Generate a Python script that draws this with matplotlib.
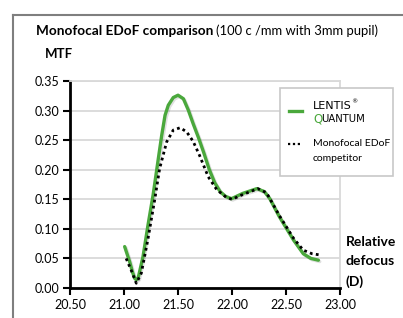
import matplotlib
matplotlib.use("Agg")
import matplotlib.pyplot as plt
import matplotlib.patheffects as pe
from matplotlib.lines import Line2D
from matplotlib.patches import Rectangle

# values
lentis_x = [21.006, 21.053, 21.08, 21.10, 21.115, 21.13, 21.176, 21.22, 21.27, 21.318,
            21.349, 21.38, 21.41, 21.456, 21.50, 21.55, 21.595, 21.64, 21.69, 21.74,
            21.79, 21.84, 21.89, 21.94, 21.995, 22.10, 22.23, 22.30, 22.35, 22.44,
            22.57, 22.66, 22.73, 22.80]
lentis_y = [0.070, 0.044, 0.026, 0.016, 0.014, 0.016, 0.053, 0.104, 0.158, 0.219,
            0.258, 0.292, 0.309, 0.322, 0.326, 0.320, 0.301, 0.278, 0.254, 0.228,
            0.200, 0.178, 0.163, 0.155, 0.151, 0.160, 0.168, 0.163, 0.151, 0.120,
            0.081, 0.058, 0.050, 0.047]

comp_x = [21.02, 21.067, 21.114, 21.16, 21.22, 21.285, 21.33, 21.395, 21.456, 21.52,
          21.58, 21.64, 21.70, 21.78, 21.86, 21.95, 22.0, 22.10, 22.24, 22.32,
          22.44, 22.57, 22.66, 22.74, 22.81]
comp_y = [0.050, 0.030, 0.008, 0.025, 0.081, 0.150, 0.202, 0.247, 0.267, 0.271,
          0.264, 0.248, 0.224, 0.188, 0.166, 0.153, 0.150, 0.158, 0.168, 0.161,
          0.122, 0.084, 0.064, 0.058, 0.056]

x_ticks = [20.5, 21.0, 21.5, 22.0, 22.5, 23.0]
y_ticks = [0.0, 0.05, 0.10, 0.15, 0.20, 0.25, 0.30, 0.35]

GREEN = "#4aa83c"
plt.rcParams["font.family"] = ["Lato", "DejaVu Sans"]

W, H = 403, 318
fig = plt.figure(figsize=(W / 100, H / 100), dpi=100)
ax = fig.add_axes([70 / W, 1 - 288 / H, 270 / W, 207 / H])

shadow = [pe.SimpleLineShadow(offset=(1, -1), alpha=0.12), pe.Normal()]
ax.plot(lentis_x, lentis_y, color=GREEN, lw=2.4, solid_joinstyle="round",
        solid_capstyle="round", zorder=3, path_effects=shadow)
ax.plot(comp_x, comp_y, color="black", lw=2.0, linestyle=(0, (1, 1.2)), zorder=4)

ax.set_xlim(20.5, 23.0)
ax.set_ylim(0, 0.35)
ax.set_xticks(x_ticks)
ax.set_yticks(y_ticks)
ax.set_xticklabels(["%.2f" % v for v in x_ticks], fontsize=9)
ax.set_yticklabels(["%.2f" % v for v in y_ticks], fontsize=9)
ax.grid(axis="y", color="#d9d9d9", lw=1.3)
ax.set_axisbelow(True)
for s in ["left", "bottom"]:
    ax.spines[s].set_linewidth(2)
    ax.spines[s].set_color("black")
ax.spines["right"].set_color("#d9d9d9")
ax.spines["right"].set_linewidth(1.3)
ax.spines["top"].set_color("#d9d9d9")
ax.spines["top"].set_linewidth(1.3)
ax.tick_params(axis="both", direction="out", length=5, width=1.5, pad=3)

# outer frame lines
fig.add_artist(Line2D([13 / W, 1], [1 - 15 / H, 1 - 15 / H], color="#7f7f7f", lw=1.5))
fig.add_artist(Line2D([13 / W, 13 / W], [0, 1 - 15 / H], color="#7f7f7f", lw=1.5))

# title
t = fig.text(36 / W, 1 - 31 / H, "Monofocal EDoF comparison", fontsize=9.8,
             fontweight="bold", va="center", ha="left")
fig.canvas.draw()
bb = t.get_window_extent()
fig.text(bb.x1 / W + 3 / W, 1 - 31 / H, "(100 c /mm with 3mm pupil)", fontsize=9.4,
         va="center", ha="left")

fig.text(45 / W, 1 - 54 / H, "MTF", fontsize=9.5, fontweight="bold", va="center")
fig.text(346 / W, 1 - 262 / H, "Relative\ndefocus\n(D)", fontsize=10,
         fontweight="bold", va="center", ha="left", linespacing=1.7)

# legend box
fig.add_artist(Rectangle((280 / W, 1 - 176 / H), 113 / W, 88 / H, facecolor="white",
                         edgecolor="#c8c8c8", lw=1.2, zorder=5))
fig.add_artist(Line2D([289 / W, 302 / W], [1 - 111 / H] * 2, color=GREEN, lw=2.4,
                      zorder=6))
lt = fig.text(313 / W, 1 - 106 / H, "LENTIS", fontsize=8, va="center",
              family="DejaVu Sans", zorder=6)
fig.canvas.draw()
lb = lt.get_window_extent()
fig.text(lb.x1 / W - 1 / W, 1 - 102 / H, "\u00ae", fontsize=4.5, va="center",
         family="DejaVu Sans", zorder=6)
fig.text(313 / W, 1 - 119 / H, "Q", fontsize=8.5, va="center", color=GREEN,
         family="DejaVu Sans", zorder=6)
fig.text(321 / W, 1 - 119 / H, "UANTUM", fontsize=7.2, va="center",
         family="DejaVu Sans", zorder=6)
fig.add_artist(Line2D([288 / W, 302 / W], [1 - 144 / H] * 2, color="black", lw=1.6,
                      linestyle=(0, (1, 1.2)), zorder=6))
fig.text(313 / W, 1 - 151 / H, "Monofocal EDoF\ncompetitor", fontsize=7.5,
         va="center", linespacing=1.75, zorder=6)

fig.savefig("out.png", dpi=100)
